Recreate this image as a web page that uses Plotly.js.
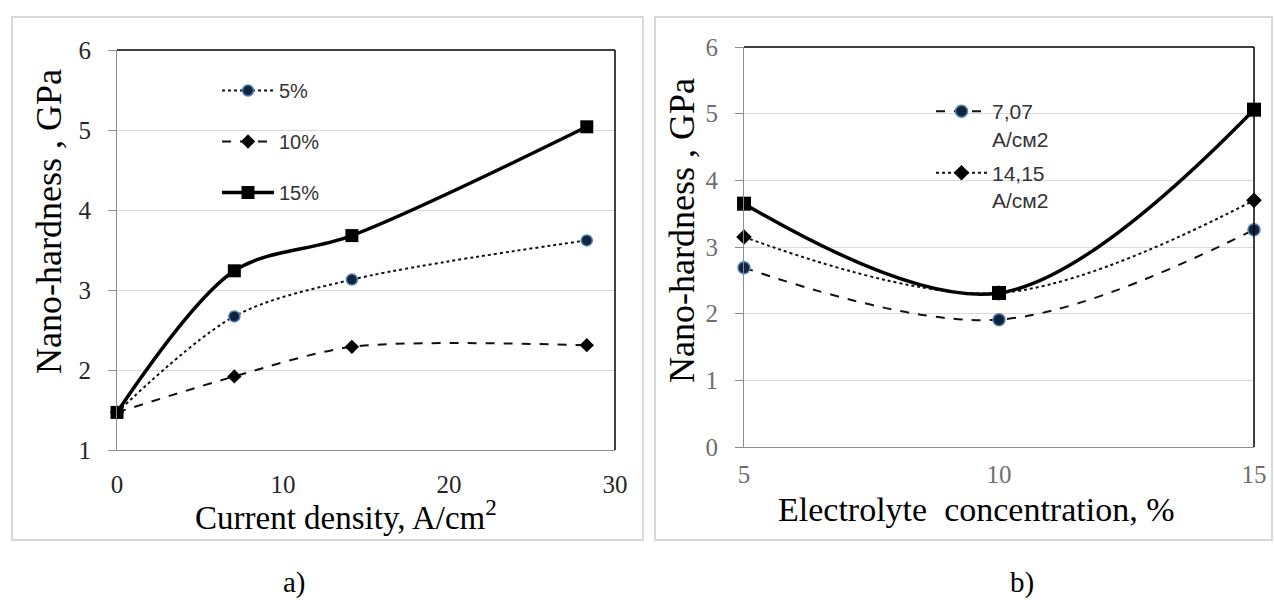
<!DOCTYPE html>
<html>
<head>
<meta charset="utf-8">
<script src="https://cdn.plot.ly/plotly-3.0.1.min.js"></script>
<style>html,body{margin:0;padding:0;background:#fff;}#chart{width:1274px;height:604px;}</style>
</head>
<body>
<div id="chart"></div>
<script>
// ---- data ----
const currentDensity = [0, 7.07, 14.15, 28.3];
const hard5 = [1.47, 2.67, 3.13, 3.62];
const hard10 = [1.47, 1.92, 2.29, 2.31];
const hard15 = [1.47, 3.24, 3.68, 5.04];
const concentration = [5, 10, 15];
const hard707 = [2.69, 1.91, 3.26];
const hard1415 = [3.15, 2.31, 3.70];
const hard283 = [3.65, 2.31, 5.06];
const legendA = ['5%', '10%', '15%'];
const legendB = ['7,07<br>A/см2', '14,15<br>A/см2'];

const W = 1274, H = 604;
const px = v => v / W, py = v => 1 - v / H;
const serif = 'Liberation Serif, Times New Roman, serif';
const sans = 'Liberation Sans, Arial, sans-serif';
const navy = '#13233a', edge = '#4f81bd';

const traces = [
  {x: currentDensity, y: hard5, name: legendA[0], xaxis: 'x', yaxis: 'y', legend: 'legend', legendgroup: 'a1',
   mode: 'lines+markers', line: {color: '#111', width: 2, dash: 'dot', shape: 'spline', smoothing: 0.9},
   marker: {symbol: 'circle', size: 11, color: navy, line: {color: edge, width: 1.5}}, cliponaxis: false},
  {x: currentDensity, y: hard10, name: legendA[1], xaxis: 'x', yaxis: 'y', legend: 'legend', legendgroup: 'a2',
   mode: 'lines+markers', line: {color: '#111', width: 2, dash: 'dash', shape: 'spline', smoothing: 0.8},
   marker: {symbol: 'diamond', size: 11, color: '#000'}, cliponaxis: false},
  {x: currentDensity, y: hard15, name: legendA[2], xaxis: 'x', yaxis: 'y', legend: 'legend', legendgroup: 'a3',
   mode: 'lines+markers', line: {color: '#000', width: 3.5, shape: 'spline', smoothing: 0.9},
   marker: {symbol: 'square', size: 13, color: '#000'}, cliponaxis: false},
  {x: concentration, y: hard707, name: legendB[0], xaxis: 'x2', yaxis: 'y2', legend: 'legend2', legendgroup: 'b1',
   mode: 'lines+markers', line: {color: '#111', width: 2, dash: 'dash', shape: 'spline'},
   marker: {symbol: 'circle', size: 12, color: navy, line: {color: edge, width: 1.5}}, cliponaxis: false},
  {x: concentration, y: hard1415, name: legendB[1], xaxis: 'x2', yaxis: 'y2', legend: 'legend2', legendgroup: 'b2',
   mode: 'lines+markers', line: {color: '#111', width: 2, dash: 'dot', shape: 'spline'},
   marker: {symbol: 'diamond', size: 12, color: '#000'}, cliponaxis: false},
  {x: concentration, y: hard283, name: '28,3', xaxis: 'x2', yaxis: 'y2', showlegend: false,
   mode: 'lines+markers', line: {color: '#000', width: 3.5, shape: 'spline'},
   marker: {symbol: 'square', size: 14, color: '#000'}, cliponaxis: false}
];

const yCommon = {showline: true, linecolor: '#8c8c8c', linewidth: 1, ticks: 'outside', ticklen: 8,
  tickcolor: '#8c8c8c', showgrid: true, gridcolor: '#d9d9d9', gridwidth: 1, zeroline: false, dtick: 1,
  ticklabelstandoff: 12};
const xCommon = {showline: true, linecolor: '#8c8c8c', linewidth: 1, ticks: '', showgrid: false,
  zeroline: false};

const layout = {
  width: W, height: H, margin: {l: 0, r: 0, t: 0, b: 0},
  paper_bgcolor: '#fff', plot_bgcolor: '#fff', showlegend: true,
  xaxis: Object.assign({}, xCommon, {domain: [px(117), px(615)], range: [0, 30], dtick: 10, anchor: 'y',
    ticklabelstandoff: 12, tickfont: {family: serif, size: 25, color: '#262626'}}),
  yaxis: Object.assign({}, yCommon, {domain: [py(450), py(50)], range: [1, 6], anchor: 'x',
    tickfont: {family: serif, size: 25, color: '#262626'}}),
  xaxis2: Object.assign({}, xCommon, {domain: [px(744), px(1254)], range: [5, 15], dtick: 5, anchor: 'y2',
    ticklabelstandoff: 5, tickfont: {family: serif, size: 25, color: '#6e6e6e'}}),
  yaxis2: Object.assign({}, yCommon, {domain: [py(447), py(47)], range: [0, 6], anchor: 'x2',
    tickfont: {family: serif, size: 25, color: '#6e6e6e'}}),
  legend: {x: px(217), y: py(71), xanchor: 'left', yanchor: 'top', bgcolor: 'rgba(0,0,0,0)', itemwidth: 52,
    traceorder: 'grouped', tracegroupgap: 22, font: {family: sans, size: 20, color: '#333'}},
  legend2: {x: px(931), y: py(91), xanchor: 'left', yanchor: 'top', bgcolor: 'rgba(0,0,0,0)', valign: 'top',
    itemwidth: 51, traceorder: 'grouped', tracegroupgap: 4, font: {family: sans, size: 21, color: '#333'}},
  shapes: [
    {type: 'rect', xref: 'paper', yref: 'paper', x0: px(12), x1: px(643), y0: py(540), y1: py(17),
     line: {color: '#d9d9d9', width: 2}},
    {type: 'rect', xref: 'paper', yref: 'paper', x0: px(655), x1: px(1272), y0: py(540), y1: py(17),
     line: {color: '#d9d9d9', width: 2}},
    {type: 'line', xref: 'x domain', yref: 'y domain', x0: 0, x1: 1, y0: 1, y1: 1, line: {color: '#000', width: 1.5}},
    {type: 'line', xref: 'x domain', yref: 'y domain', x0: 1, x1: 1, y0: 0, y1: 1, line: {color: '#000', width: 1.5}},
    {type: 'line', xref: 'x2 domain', yref: 'y2 domain', x0: 0, x1: 1, y0: 1, y1: 1, line: {color: '#000', width: 1.5}},
    {type: 'line', xref: 'x2 domain', yref: 'y2 domain', x0: 1, x1: 1, y0: 0, y1: 1, line: {color: '#000', width: 1.5}}
  ],
  annotations: [
    {text: 'Nano-hardness , GPa', xref: 'paper', yref: 'paper', x: px(49), y: py(222), textangle: -90,
     showarrow: false, xanchor: 'center', yanchor: 'middle', font: {family: serif, size: 36, color: '#000'}},
    {text: 'Current density, A/cm<sup>2</sup>', xref: 'paper', yref: 'paper', x: px(346), y: py(515),
     showarrow: false, xanchor: 'center', yanchor: 'middle', font: {family: serif, size: 33, color: '#000'}},
    {text: 'Nano-hardness , GPa', xref: 'paper', yref: 'paper', x: px(682), y: py(230), textangle: -90,
     showarrow: false, xanchor: 'center', yanchor: 'middle', font: {family: serif, size: 36, color: '#000'}},
    {text: 'Electrolyte  concentration, %', xref: 'paper', yref: 'paper', x: px(976), y: py(509),
     showarrow: false, xanchor: 'center', yanchor: 'middle', font: {family: serif, size: 34, color: '#000'}},
    {text: 'a)', xref: 'paper', yref: 'paper', x: px(294), y: py(582),
     showarrow: false, xanchor: 'center', yanchor: 'middle', font: {family: serif, size: 29, color: '#000'}},
    {text: 'b)', xref: 'paper', yref: 'paper', x: px(1022), y: py(582),
     showarrow: false, xanchor: 'center', yanchor: 'middle', font: {family: serif, size: 29, color: '#000'}}
  ]
};

Plotly.newPlot('chart', traces, layout, {displayModeBar: false, staticPlot: true});
</script>
</body>
</html>
